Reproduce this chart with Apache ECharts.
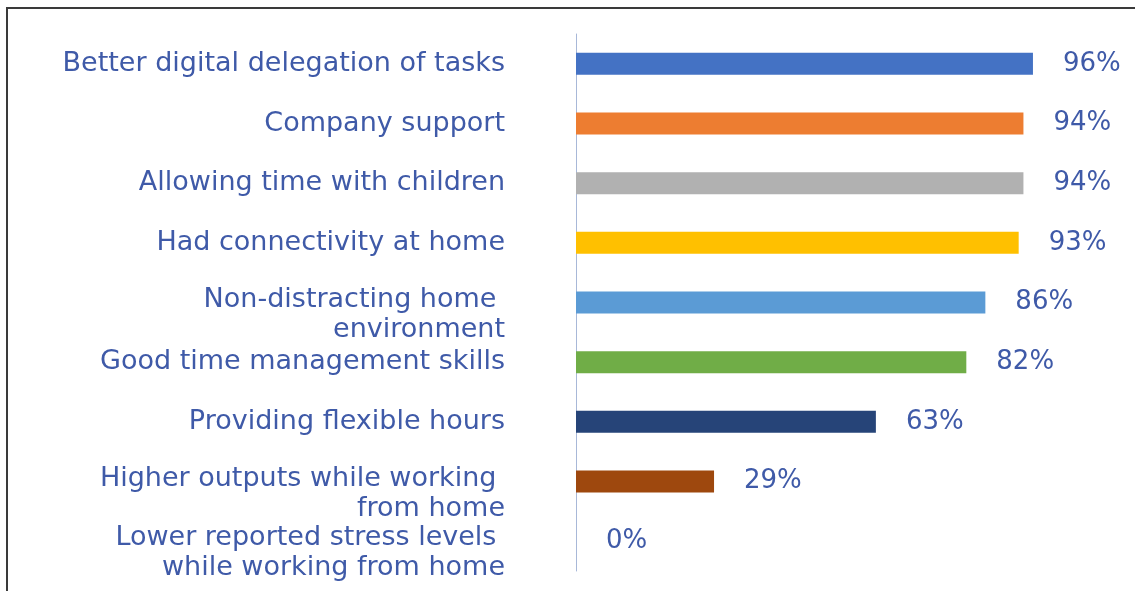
<!DOCTYPE html>
<html>
<head>
<meta charset="utf-8">
<script src="https://cdn.jsdelivr.net/npm/echarts@6/dist/echarts.min.js"></script>
<style>
    html, body { margin: 0; padding: 0; background: #fff; }
    #frame {
        position: absolute; left: 6px; top: 7px; width: 1129px; height: 584px;
        border-top: 2px solid #3a3a3a; border-left: 2px solid #3a3a3a;
    }
    #chart { position: absolute; left: 0; top: 0; width: 1135px; height: 591px; }
</style>
</head>
<body>
<div id="frame"></div>
<div id="chart"></div>
<script>
// categories, top to bottom
var categories = [
    'Better digital delegation of tasks',
    'Company support',
    'Allowing time with children',
    'Had connectivity at home',
    'Non-distracting home \nenvironment',
    'Good time management skills',
    'Providing flexible hours',
    'Higher outputs while working \nfrom home',
    'Lower reported stress levels \nwhile working from home'
];
// percent of respondents
var values = [96, 94, 94, 93, 86, 82, 63, 29, 0];

var barColors = ['#4472C4', '#ED7D31', '#B1B1B1', '#FFC000', '#5B9BD5', '#70AD47', '#264478', '#9E480E', '#636363'];
var textColor = '#3F5AA8';
var fontName = 'DejaVu Sans';

var chart = echarts.init(document.getElementById('chart'));

var option = {
    animation: false,
    grid: {
        left: 576,
        right: 83,
        top: 34,
        bottom: 20
    },
    xAxis: {
        type: 'value',
        min: 0,
        max: 100,
        show: false
    },
    yAxis: {
        type: 'category',
        inverse: true,
        data: categories,
        axisLine: {show: true, lineStyle: {color: '#A8B8D8', width: 1}},
        axisTick: {show: false},
        axisLabel: {
            interval: 0,
            margin: 71,
            color: textColor,
            fontFamily: fontName,
            fontSize: 27,
            lineHeight: 30,
            // two-line labels: push down so the first line sits about level with the bar
            formatter: function (v) {
                return v.indexOf('\n') >= 0 ? '{gap| }\n' + v : v;
            },
            rich: {
                gap: {lineHeight: 24, fontSize: 10}
            }
        }
    },
    series: [{
        type: 'bar',
        barWidth: 22,
        data: values,
        itemStyle: {
            color: function (p) {
                return barColors[p.dataIndex];
            }
        },
        label: {
            show: true,
            position: 'right',
            distance: 30,
            formatter: '{c}%',
            color: textColor,
            fontFamily: fontName,
            fontSize: 26
        }
    }]
};

chart.setOption(option);
</script>
</body>
</html>
